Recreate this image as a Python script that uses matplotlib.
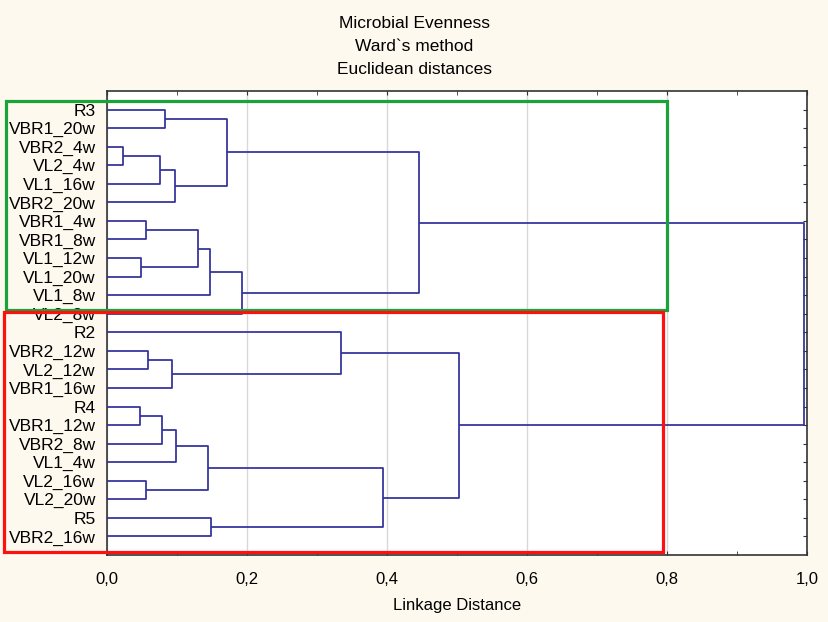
import numpy as np
import matplotlib
matplotlib.use("Agg")
import matplotlib.pyplot as plt
from matplotlib.patches import Rectangle
from matplotlib.ticker import MultipleLocator, FuncFormatter

plt.rcParams['font.family'] = ['Liberation Sans', 'DejaVu Sans']

# leaf order, top to bottom
leaves = ['R3', 'VBR1_20w', 'VBR2_4w', 'VL2_4w', 'VL1_16w', 'VBR2_20w',
          'VBR1_4w', 'VBR1_8w', 'VL1_12w', 'VL1_20w', 'VL1_8w', 'VL2_8w',
          'R2', 'VBR2_12w', 'VL2_12w', 'VBR1_16w', 'R4', 'VBR1_12w',
          'VBR2_8w', 'VL1_4w', 'VL2_16w', 'VL2_20w', 'R5', 'VBR2_16w']

# merges like a linkage matrix: new cluster ids start at len(leaves)
merge_a = [2, 16, 8, 6, 20, 13, 24, 25, 0, 29, 30, 31, 27, 35, 36, 22, 32, 38, 12, 37, 40, 42, 44]
merge_b = [3, 17, 9, 7, 21, 14, 4, 18, 1, 15, 5, 19, 26, 28, 10, 23, 34, 11, 33, 39, 41, 43, 45]
merge_h = [0.023, 0.047, 0.048, 0.056, 0.056, 0.058, 0.076, 0.078, 0.083, 0.093,
           0.097, 0.098, 0.130, 0.145, 0.147, 0.149, 0.171, 0.193, 0.334, 0.394,
           0.446, 0.503, 0.995]

line_col = '#30309a'
bg = '#fdf9ee'

fig = plt.figure(figsize=(8.29, 6.22), dpi=100, facecolor=bg)
ax = fig.add_axes([0.129, 0.1077, 0.8445, 0.746])
ax.set_facecolor('white')

# node positions: (y, height)
pos = {i: (i + 1, 0.0) for i in range(len(leaves))}
for k, (a, b, h) in enumerate(zip(merge_a, merge_b, merge_h)):
    ya, ha = pos[a]
    yb, hb = pos[b]
    ax.plot([ha, h, h, hb], [ya, ya, yb, yb], color=line_col, lw=1.25,
            solid_capstyle='butt', zorder=3)
    pos[len(leaves) + k] = ((ya + yb) / 2, h)

ax.set_xlim(0, 1.0)
ax.set_ylim(len(leaves) + 1, 0)
ax.set_yticks(np.arange(1, len(leaves) + 1))
ax.set_yticklabels(leaves, fontsize=12.5)

ax.xaxis.set_major_locator(MultipleLocator(0.2))
ax.xaxis.set_minor_locator(MultipleLocator(0.1))
ax.xaxis.set_major_formatter(FuncFormatter(lambda v, p: f"{v:.1f}".replace('.', ',')))
ax.tick_params(axis='x', which='both', direction='in', top=True, bottom=True,
               labelsize=12, length=3, pad=12, color='#333333')
ax.tick_params(axis='y', direction='in', left=False, right=True, length=3,
               pad=8, color='#333333')
ax.grid(axis='x', which='major', color='#d8d8d8', lw=1.0, zorder=0)
for s in ax.spines.values():
    s.set_color('#333333')
    s.set_linewidth(1.2)

ax.set_xlabel('Linkage Distance', fontsize=12, labelpad=8)

fig.text(0.5, 0.963, 'Microbial Evenness', ha='center', va='center', fontsize=12.5)
fig.text(0.5, 0.926, 'Ward`s method', ha='center', va='center', fontsize=12.5)
fig.text(0.5, 0.889, 'Euclidean distances', ha='center', va='center', fontsize=12.5)

# cluster boxes (drawn in axes data coordinates, outside the axes on the left)
ax.add_patch(Rectangle((-0.144, 0.54), 0.944, 11.26, fill=False, ec='#1aa33a',
                       lw=2.3, clip_on=False, zorder=5))
ax.add_patch(Rectangle((-0.147, 11.9), 0.941, 12.95, fill=False, ec='#ff1010',
                       lw=2.3, clip_on=False, zorder=5))

fig.savefig('out.png', dpi=100, facecolor=bg)
